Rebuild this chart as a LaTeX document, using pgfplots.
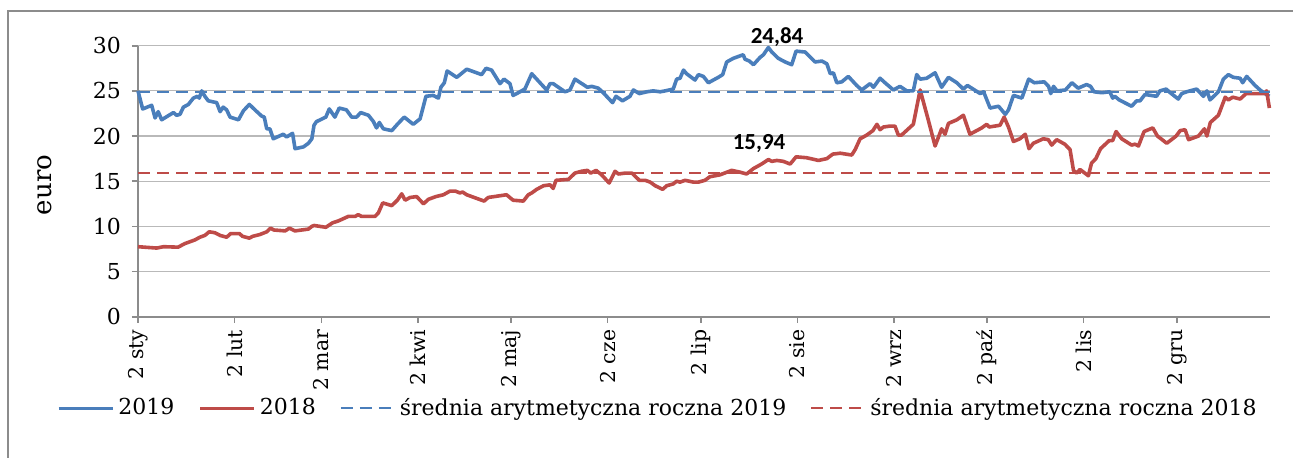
\documentclass[border=0pt]{standalone}
\usepackage{fontspec}
\setmainfont{DejaVu Serif}
\newfontfamily\lblfont{Carlito}
\usepackage{pgfplots}
\pgfplotsset{compat=1.18}
\definecolor{s2019}{HTML}{4A7EBB}
\definecolor{s2018}{HTML}{BE4B48}
\definecolor{framegray}{HTML}{8C8C8C}

\begin{document}
\begin{tikzpicture}
\useasboundingbox (0,0) rectangle (646.5pt,-228.5pt);
\draw[framegray, line width=1pt] (4pt,-231pt) -- (4pt,-5.5pt) -- (650pt,-5.5pt);
\begin{axis}[
    scale only axis,
    width=566pt,
    height=135.5pt,
    at={(69pt,-158.35pt)},
    anchor=south west,
    clip=false,
    xmin=0, xmax=364,
    ymin=0, ymax=30,
    ytick={0,5,...,30},
    xtick={0,31,59,90,120,151,181,212,243,273,304,334},
    xticklabels={2 sty,2 lut,2 mar,2 kwi,2 maj,2 cze,2 lip,2 sie,2 wrz,2 paź,2 lis,2 gru},
    xticklabel style={rotate=90, anchor=east, font=\fontsize{10.2}{12}\selectfont},
    yticklabel style={font=\fontsize{11}{13}\selectfont, xshift=-2pt},
    /pgf/number format/assume math mode=true,
    axis lines*=left,
    axis line style={framegray, line width=0.8pt},
    tick align=outside,
    major tick length=3pt,
    tick style={framegray, line width=0.8pt},
    ymajorgrids,
    grid style={gray!55, line width=0.6pt},
    ylabel={euro},
    ylabel style={at={(axis description cs:-0.082,0.486)}, anchor=center, font=\fontsize{13}{15}\selectfont},
    legend columns=4,
    legend style={
        at={(0.46,-0.338)},
        anchor=center,
        draw=none,
        font=\fontsize{11}{13}\selectfont,
        /tikz/every even column/.append style={column sep=10pt}
    },
    legend image code/.code={\draw[#1] (0pt,0pt) -- (27pt,0pt);},
]
\addplot[s2019, line width=1.8pt, line join=round] coordinates {
(0,25.0) (1.5,23.0) (4.4,23.4) (5.5,22.0) (6.5,22.7) (7.6,21.8) (11.4,22.6) (12.4,22.3)
(13.5,22.4) (14.6,23.2) (16.2,23.5) (17.8,24.2) (19.1,24.4) (19.7,24.2) (20.5,25.0) (21.5,24.4)
(22.6,23.9) (25.3,23.7) (26.4,22.7) (27.4,23.2) (28.5,22.9) (29.6,22.1) (32.3,21.8) (33.9,22.8)
(35.8,23.5) (37.6,22.9) (39.8,22.2) (40.6,22.1) (41.4,20.8) (42.4,20.8) (43.5,19.7) (46.7,20.2)
(47.8,19.9) (49.7,20.3) (50.5,18.6) (53.2,18.8) (54.8,19.2) (55.9,19.7) (56.6,21.2) (57.4,21.6)
(60.4,22.1) (61.5,23.0) (63.3,22.1) (64.7,23.1) (67.0,22.9) (68.7,22.1) (70.3,22.1) (71.6,22.6)
(74.1,22.3) (75.7,21.6) (76.7,20.9) (77.6,21.5) (78.9,20.8) (81.6,20.6) (83.4,21.3) (85.6,22.1)
(88.5,21.3) (90.7,21.9) (92.6,24.4) (94.9,24.5) (96.6,24.2) (97.4,25.4) (98.5,25.9) (99.4,27.2)
(102.5,26.5) (105.7,27.4) (110.5,26.8) (111.9,27.5) (113.7,27.3) (116.4,25.8) (117.7,26.3) (119.6,25.8)
(120.6,24.5) (122.3,24.8) (124.4,25.2) (126.6,26.9) (129.0,26.0) (131.4,25.1) (132.5,25.8) (133.5,25.8)
(137.3,24.9) (138.9,25.1) (140.5,26.3) (144.5,25.4) (145.9,25.5) (148.0,25.3) (149.6,24.8) (151.2,24.2)
(152.6,23.7) (153.7,24.4) (155.8,23.9) (158.2,24.4) (159.3,25.1) (161.2,24.7) (163.6,24.9) (165.7,25.0)
(167.9,24.9) (169.5,25.0) (172.1,25.2) (173.2,26.3) (174.3,26.4) (175.4,27.3) (176.4,26.9) (179.1,26.2)
(180.2,26.8) (181.8,26.6) (183.4,25.9) (186.6,26.5) (188.0,26.8) (189.3,28.2) (191.4,28.6) (194.6,29.0)
(195.2,28.5) (196.6,28.3) (197.9,27.9) (200.0,28.7) (201.1,29.0) (202.7,29.8) (203.8,29.3) (205.9,28.6)
(208.1,28.2) (210.2,27.9) (211.6,29.4) (214.5,29.3) (217.7,28.2) (219.9,28.3) (221.5,28.0) (222.6,26.9)
(223.6,27.0) (224.7,25.9) (226.3,26.0) (228.4,26.6) (231.1,25.6) (232.7,25.1) (235.4,25.8) (236.5,25.4)
(238.6,26.4) (240.2,25.9) (242.9,25.1) (245.0,25.5) (247.2,25.0) (249.3,25.0) (250.4,26.8) (251.5,26.3)
(253.6,26.4) (256.3,27.0) (258.4,25.4) (260.6,26.5) (263.3,25.9) (265.4,25.2) (266.7,25.6) (270.8,24.7)
(271.9,24.9) (274.0,23.1) (276.7,23.3) (278.9,22.4) (279.9,22.9) (281.5,24.5) (284.2,24.2) (286.4,26.3)
(288.2,25.9) (291.4,26.0) (292.8,25.5) (293.5,24.7) (294.4,25.5) (295.5,25.0) (298.2,25.1) (300.3,25.9)
(302.3,25.3) (305.0,25.7) (306.3,25.5) (307.4,24.9) (309.9,24.8) (312.5,24.9) (313.4,24.2) (314.1,24.4)
(315.5,24.0) (319.5,23.3) (321.1,23.9) (322.2,23.9) (323.8,24.6) (327.5,24.4) (328.6,25.0) (330.6,25.2)
(331.9,24.8) (334.5,24.1) (335.6,24.7) (337.2,24.9) (340.4,25.2) (342.6,24.4) (343.7,25.0) (344.7,24.0)
(347.4,24.9) (349.0,26.3) (350.6,26.8) (352.2,26.5) (354.4,26.4) (355.2,25.9) (356.5,26.6) (359.2,25.6)
(360.8,25.1) (362.4,24.7) (363.8,24.4)
};
\addlegendentry{2019}
\addplot[s2018, line width=1.8pt, line join=round] coordinates {
(0,7.75) (6.0,7.6) (8.2,7.75) (12.9,7.7) (15.1,8.1) (18.3,8.5) (19.9,8.8) (21.5,9.0)
(22.9,9.4) (24.7,9.3) (26.4,9.0) (28.5,8.8) (29.8,9.2) (32.6,9.2) (33.6,8.9) (35.8,8.7)
(36.9,8.9) (39.2,9.1) (41.4,9.4) (42.6,9.8) (43.7,9.6) (47.3,9.5) (48.7,9.8) (50.5,9.5)
(54.8,9.7) (55.9,10.0) (56.6,10.1) (58.5,10.0) (60.4,9.9) (62.6,10.4) (64.4,10.6) (67.6,11.1)
(69.8,11.1) (70.8,11.3) (71.9,11.1) (76.2,11.1) (77.3,11.5) (78.7,12.6) (81.6,12.3) (83.4,12.9)
(84.8,13.6) (85.9,12.9) (87.5,13.2) (89.6,13.3) (91.8,12.5) (93.4,13.0) (95.8,13.3) (98.2,13.5)
(100.3,13.9) (102.1,13.9) (103.5,13.7) (104.4,13.8) (105.7,13.5) (108.9,13.1) (111.3,12.8) (112.6,13.2)
(118.5,13.5) (120.6,12.9) (123.9,12.8) (125.5,13.5) (126.6,13.7) (128.2,14.1) (130.4,14.5) (132.5,14.6)
(133.5,14.2) (134.4,15.1) (138.4,15.2) (140.5,15.9) (142.6,16.1) (144.5,16.2) (145.6,15.9) (147.3,16.2)
(149.1,15.7) (151.5,14.8) (153.4,16.1) (154.5,15.8) (156.7,15.9) (158.8,15.9) (161.2,15.1) (163.1,15.1)
(164.7,14.9) (166.3,14.5) (168.7,14.1) (170.0,14.5) (172.1,14.7) (173.2,15.0) (174.3,14.9) (175.9,15.1)
(178.6,14.9) (180.2,14.9) (182.3,15.1) (183.9,15.5) (187.1,15.7) (190.9,16.2) (193.6,16.0) (195.7,15.8)
(197.9,16.4) (200.5,16.9) (202.7,17.4) (203.8,17.2) (205.4,17.3) (207.5,17.2) (209.7,16.9) (211.6,17.7)
(215.0,17.6) (218.8,17.3) (221.5,17.5) (223.4,18.0) (225.8,18.1) (229.5,17.9) (230.6,18.5) (232.2,19.7)
(234.3,20.1) (236.3,20.6) (237.6,21.3) (238.6,20.7) (239.7,21.0) (241.8,21.1) (243.4,21.1) (244.5,20.1)
(245.5,20.1) (249.3,21.3) (251.5,25.1) (254.1,21.8) (256.3,18.9) (258.4,20.8) (259.5,20.2) (260.6,21.4)
(263.3,21.8) (265.4,22.3) (267.5,20.2) (271.3,20.9) (272.9,21.3) (273.7,21.0) (277.2,21.2) (278.5,22.1)
(279.9,21.0) (281.5,19.4) (283.6,19.7) (285.3,20.2) (286.5,18.6) (287.9,19.2) (291.1,19.7) (292.7,19.6)
(293.8,19.0) (295.4,19.6) (298.0,19.1) (299.7,18.5) (300.8,16.2) (301.8,15.9) (302.9,16.3) (305.6,15.6)
(306.6,17.0) (308.0,17.5) (309.5,18.6) (312.3,19.5) (313.4,19.5) (314.5,20.5) (316.3,19.7) (319.5,19.0)
(320.6,19.1) (321.7,18.9) (323.5,20.5) (326.3,20.9) (327.8,20.0) (330.8,19.2) (333.8,20.0) (335.1,20.6)
(336.7,20.7) (337.8,19.6) (341.0,20.0) (342.9,20.8) (343.7,20.0) (344.8,21.5) (347.4,22.3) (349.6,24.3)
(350.6,24.0) (352.0,24.3) (354.4,24.1) (356.3,24.7) (359.7,24.7) (362.2,24.7) (362.9,25.0) (363.8,23.1)
};
\addlegendentry{2018}
\addplot[s2019, line width=1pt, dash pattern=on 6pt off 3.5pt] coordinates {(0,24.84) (364,24.84)};
\addlegendentry{średnia arytmetyczna roczna 2019}
\addplot[s2018, line width=1pt, dash pattern=on 6pt off 3.5pt] coordinates {(0,15.94) (364,15.94)};
\addlegendentry{średnia arytmetyczna roczna 2018}
\node[font=\lblfont\bfseries\fontsize{11.5}{13}\selectfont] at (axis cs:205.5,31.0) {24,84};
\node[font=\lblfont\bfseries\fontsize{11.5}{13}\selectfont] at (axis cs:199.7,19.2) {15,94};
\end{axis}
\end{tikzpicture}
\end{document}
